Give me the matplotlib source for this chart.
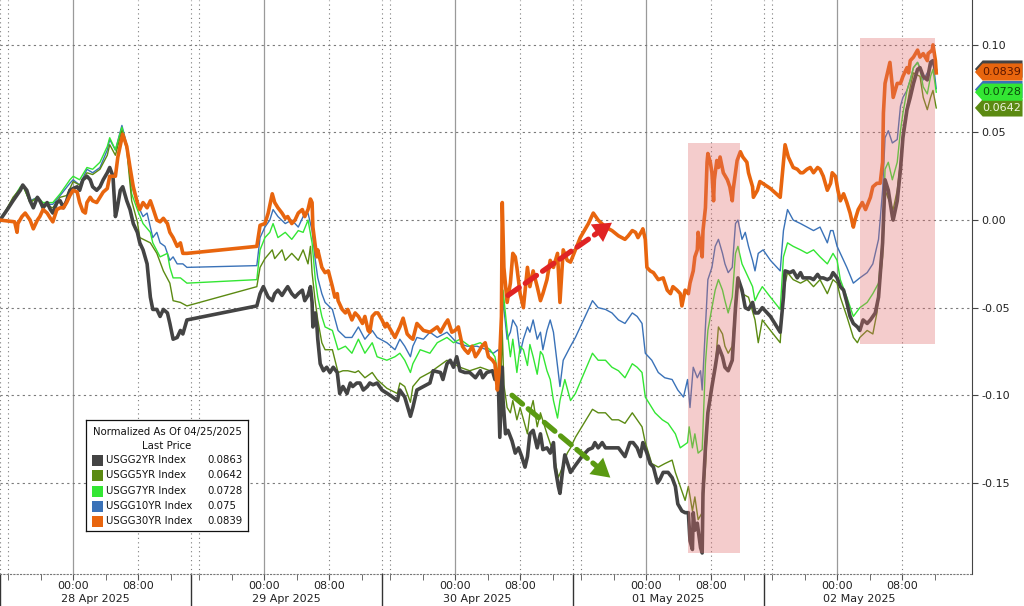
import matplotlib
matplotlib.use("Agg")
import matplotlib.pyplot as plt
import numpy as np
from matplotlib.patches import Polygon, Rectangle
from matplotlib.transforms import blended_transform_factory

# Treasury yield change since 04/25/2025 close, in basis points.
# Time is in hours along Bloomberg's gap-compressed axis: each session is
# 23.5 h long and starts at 15:00 of the previous day (00:00 sits at +9 h).
SESSION = 23.5
days = ["28 Apr 2025", "29 Apr 2025", "30 Apr 2025", "01 May 2025", "02 May 2025"]

t_30y = [0.0, 1.8, 2.1, 2.2, 2.7, 3.1, 3.7, 4.1, 4.6, 4.9,
         5.3, 5.8, 6.2, 6.5, 7.0, 7.4, 7.8, 8.2, 8.6, 9.0,
         9.5, 9.8, 10.2, 10.5, 10.7, 11.1, 11.4, 11.9, 12.3, 12.7,
         13.2, 13.5, 14.2, 14.5, 15.0, 15.1, 15.6, 16.0, 16.4, 16.9,
         17.2, 17.6, 18.1, 18.5, 18.8, 19.3, 19.7, 20.1, 20.6, 20.9,
         21.3, 21.8, 22.2, 22.5, 23.0,
         31.6, 32.0, 32.6, 33.0, 33.5, 33.8, 34.2, 34.7, 35.1, 35.4,
         35.9, 36.3, 36.7, 37.2, 37.5, 37.9, 38.2, 38.4, 38.5, 38.8,
         39.0, 39.1, 39.6, 40.0, 40.4, 40.9, 41.2, 41.5, 41.6, 42.1,
         42.5, 42.8, 43.3, 43.7, 44.1, 44.6, 44.9, 45.3, 45.5, 45.8,
         46.2, 46.5, 47.0,
         47.4, 47.6, 48.6, 49.2, 49.6, 50.1, 50.5, 50.8, 51.3, 52.1,
         52.9, 53.8, 54.2, 54.8, 55.1, 55.6, 56.0, 56.4, 56.9, 57.2,
         57.6, 58.1, 58.5, 58.8, 59.3, 59.7, 60.1, 60.6, 60.9, 61.2,
         61.4, 61.7, 61.8, 62.0, 62.4, 62.8, 63.1, 63.4, 63.6, 64.0,
         64.4, 64.9, 65.2, 65.6, 66.1, 66.5, 66.8, 67.3, 67.7, 68.1,
         68.6, 68.9, 69.3, 69.8, 70.2,
         70.8, 71.4, 72.4, 73.0, 73.6, 74.5, 75.3, 76.1, 76.9, 77.3,
         77.8, 78.2, 78.5, 79.0, 79.1, 79.4, 79.6, 80.0, 80.4, 81.0,
         81.6, 82.1, 82.5, 82.8, 83.3, 83.7, 83.9, 84.3, 84.7, 84.9,
         85.3, 85.5, 85.8, 85.9, 86.2, 86.4, 86.5, 86.8, 87.0, 87.1,
         87.4, 87.6, 87.8, 87.9, 88.2, 88.4, 88.6, 89.0, 89.5, 89.8,
         90.1, 90.2, 90.7, 91.1, 91.4, 91.9, 92.1, 92.6, 92.7, 93.2,
         93.5,
         94.8, 96.0, 96.4, 96.6, 97.0, 97.6, 98.1, 98.5, 98.8, 99.3,
         99.7, 100.1, 100.6, 100.9, 101.3, 101.8, 102.2, 102.4, 102.8, 103.1,
         103.4, 103.8, 104.2, 104.6, 105.0, 105.2, 105.6, 106.1, 106.5, 107.1,
         107.4, 107.9, 108.3, 108.6, 108.7, 108.9, 109.3, 109.5, 109.8, 109.9,
         110.4, 110.8, 111.1, 111.6, 111.8, 112.0, 112.4, 112.9, 113.2, 113.6,
         114.1, 114.2, 114.7, 114.8, 115.1, 115.2]
bp_30y = [0.0, -0.1, -0.7, -0.2, 0.2, 0.4, 0.0, -0.5, 0.0, 0.2,
          0.6, 0.4, 0.1, -0.1, 0.6, 0.7, 0.7, 1.0, 1.4, 1.7,
          1.6, 1.0, 0.5, 0.4, 1.0, 1.3, 1.1, 1.0, 1.3, 1.6,
          1.8, 2.5, 2.5, 3.6, 4.7, 4.9, 4.2, 3.0, 1.9, 1.0,
          0.6, 1.0, 0.7, 1.1, 0.7, 0.0, -0.1, 0.1, -0.2, -0.7,
          -1.0, -1.5, -1.3, -1.9, -1.9,
          -1.5, -0.3, -0.2, 0.4, 1.5, 1.0, 0.7, 0.4, 0.1, 0.2,
          -0.2, 0.0, 0.4, 0.6, 0.2, 0.6, 1.2, 1.0, -0.4, -1.5,
          -2.1, -1.7, -2.7, -3.0, -2.9, -3.8, -4.4, -4.2, -4.6, -5.1,
          -5.3, -5.1, -5.7, -5.3, -5.5, -5.9, -5.5, -6.3, -6.4, -5.5,
          -5.3, -5.3, -5.7,
          -6.1, -5.9, -6.7, -6.1, -5.6, -6.5, -6.7, -6.8, -5.9, -6.3,
          -6.4, -6.1, -6.4, -5.9, -5.7, -6.4, -6.3, -6.1, -7.2, -7.4,
          -7.6, -7.2, -7.8, -7.6, -7.2, -7.0, -7.8, -8.0, -8.2, -9.7,
          -8.7, -5.5, 1.0, -2.7, -4.7, -3.6, -1.9, -2.1, -2.7, -4.2,
          -5.0, -2.7, -3.8, -2.9, -3.8, -4.6, -4.2, -3.4, -2.3, -2.7,
          -1.9, -4.7, -1.7, -2.3, -2.4,
          -1.7, -1.0, -0.2, 0.4, 0.0, -0.4, -0.6, -0.9, -1.1, -0.9,
          -0.6, -0.7, -1.0, -0.6, -0.5, -1.1, -2.7, -2.9, -3.0, -3.4,
          -3.3, -4.0, -4.2, -3.8, -4.0, -4.2, -4.9, -4.0, -4.2, -3.6,
          -2.9, -2.1, -1.7, -0.7, -1.4, -2.1, -0.6, 0.7, 3.3, 3.8,
          3.3, 2.7, 1.1, 2.3, 3.4, 3.0, 3.6, 2.7, 2.3, 1.9,
          1.1, 1.7, 3.4, 3.9, 3.6, 3.3, 2.7, 1.9, 1.3, 1.7,
          2.2,
          1.8, 1.3, 3.3, 4.3, 3.6, 3.0, 2.9, 2.7, 2.7, 2.9,
          3.0, 2.7, 3.0, 2.9, 2.5, 1.7, 2.1, 2.7, 2.5, 1.7,
          1.1, 1.5, 1.0, 0.4, -0.4, 0.0, 0.6, 1.0, 0.6, 1.3,
          1.9, 2.1, 2.1, 3.3, 6.1, 7.8, 8.6, 9.0, 7.6, 7.0,
          7.8, 7.8, 8.2, 8.7, 8.4, 9.1, 9.3, 9.7, 9.3, 9.5,
          9.1, 9.5, 9.7, 10.0, 9.1, 8.4]

t_2y = [0.0, 0.9, 1.6, 2.5, 2.8, 3.3, 3.7, 4.1, 4.6, 4.9,
        5.3, 5.8, 6.2, 6.5, 7.0, 7.4, 7.8, 8.2, 8.6, 9.0,
        9.5, 9.8, 10.2, 10.7, 11.1, 11.4, 11.9, 12.3, 12.7, 13.2,
        13.5, 13.9, 14.2, 14.4, 14.8, 15.1, 15.6, 16.0, 16.4, 16.9,
        17.2, 17.6, 18.1, 18.5, 18.8, 19.3, 19.7, 20.1, 20.6, 20.9,
        21.3, 21.8, 22.2, 22.5, 23.0,
        31.6, 32.0, 32.4, 33.0, 33.5, 33.8, 34.2, 34.7, 35.1, 35.4,
        35.9, 36.3, 36.7, 37.2, 37.5, 37.9, 38.2, 38.4, 38.5, 38.8,
        39.0, 39.1, 39.4, 39.8, 40.2, 40.6, 41.0, 41.5, 41.8, 42.2,
        42.7, 43.1, 43.4, 43.9, 44.3, 44.7, 45.2, 45.5, 45.9, 46.4,
        47.0,
        48.0, 48.9, 49.2, 49.8, 50.5, 50.8, 51.3, 52.1, 52.9, 53.3,
        54.2, 54.5, 55.0, 55.4, 55.8, 56.2, 56.6, 57.2, 57.8, 58.5,
        59.1, 59.4, 59.9, 60.6, 60.9, 61.3, 61.5, 61.8, 61.9, 62.2,
        62.5, 63.0, 63.4, 63.8, 64.2, 64.6, 64.9, 65.2, 65.6, 66.1,
        66.5, 66.8, 67.3, 67.7, 68.1, 68.3, 68.7, 68.9, 69.2, 69.5,
        70.2,
        70.8, 71.6, 72.4, 72.9, 73.2, 73.6, 74.1, 74.5, 75.3, 76.1,
        76.9, 77.5, 77.9, 78.4, 78.8, 79.1, 79.6, 80.0, 80.4, 80.9,
        81.2, 81.6, 82.2, 82.7, 83.1, 83.4, 83.9, 84.3, 84.7, 84.9,
        85.2, 85.3, 85.5, 85.8, 86.2, 86.4, 86.5, 86.8, 87.1, 87.6,
        88.0, 88.4, 88.9, 89.2, 89.6, 90.1, 90.5, 90.8, 91.3, 91.7,
        92.1, 92.6, 92.9, 93.3, 93.8,
        94.8, 96.0, 96.4, 96.6, 97.2, 97.6, 98.1, 98.5, 98.8, 99.3,
        99.7, 100.1, 100.6, 100.9, 101.3, 101.8, 102.2, 102.5, 103.0, 103.4,
        103.8, 104.2, 104.6, 105.0, 105.5, 105.8, 106.2, 106.7, 107.1, 107.7,
        108.1, 108.6, 108.9, 109.3, 109.8, 109.9, 110.4, 110.8, 111.1, 111.6,
        112.0, 112.4, 112.9, 113.2, 113.6, 114.1, 114.5, 114.8, 115.1]
bp_2y = [0.0, 0.6, 1.1, 1.7, 2.0, 1.7, 1.1, 0.7, 1.3, 1.1,
         0.7, 1.0, 0.6, 0.4, 1.0, 1.1, 0.7, 1.1, 1.7, 1.8,
         1.9, 1.7, 2.3, 2.5, 2.3, 1.9, 1.7, 1.9, 2.3, 2.7,
         3.0, 2.5, 0.2, 0.6, 1.7, 1.9, 1.1, 0.6, -0.2, -0.7,
         -1.3, -1.7, -2.5, -4.4, -5.1, -5.1, -5.5, -5.1, -5.3, -5.9,
         -6.8, -6.7, -6.3, -6.5, -5.7,
         -4.9, -4.2, -3.8, -4.4, -4.6, -4.2, -4.0, -4.3, -4.0, -3.8,
         -4.2, -4.4, -4.2, -4.0, -4.6, -4.3, -3.8, -4.7, -6.1, -5.3,
         -6.1, -6.8, -8.2, -8.6, -8.4, -8.7, -8.4, -8.7, -9.9, -9.5,
         -9.9, -9.3, -9.5, -9.3, -9.3, -9.7, -9.5, -9.3, -9.4, -9.3,
         -9.7,
         -10.0, -10.3, -9.7, -10.1, -11.2, -10.7, -9.7, -9.5, -9.3, -8.6,
         -8.7, -9.1, -8.2, -8.0, -8.4, -7.8, -8.6, -8.7, -8.7, -9.0,
         -8.6, -9.0, -8.7, -8.6, -9.1, -9.0, -12.4, -8.4, -10.3, -12.2,
         -12.0, -12.6, -13.3, -13.0, -13.5, -14.1, -13.5, -12.2, -12.0, -13.0,
         -12.2, -13.1, -13.0, -13.3, -12.7, -14.1, -15.2, -15.6, -14.4, -13.4,
         -14.4,
         -14.0, -13.5, -13.1, -13.0, -12.7, -13.0, -12.7, -13.0, -13.0, -13.0,
         -13.5, -12.7, -12.7, -13.0, -13.5, -12.7, -13.3, -13.9, -14.1, -15.0,
         -14.8, -14.4, -14.4, -14.7, -15.2, -16.2, -16.6, -16.7, -16.7, -18.3,
         -18.8, -16.7, -17.7, -17.3, -18.7, -19.0, -15.6, -13.0, -11.0, -9.5,
         -8.4, -7.2, -7.8, -8.4, -8.6, -8.0, -5.0, -3.3, -4.0, -5.0,
         -5.1, -4.7, -5.3, -5.3, -5.0,
         -5.5, -6.4, -4.4, -2.9, -3.0, -2.9, -3.3, -3.0, -3.3, -3.3,
         -3.3, -3.4, -3.1, -3.3, -3.3, -3.4, -3.3, -3.0, -3.3, -3.8,
         -4.0, -4.7, -5.5, -5.9, -6.1, -6.3, -5.7, -5.9, -5.7, -5.3,
         -4.4, -1.3, 2.3, 1.7, 0.2, 0.0, 1.1, 2.9, 4.7, 6.3,
         7.0, 7.8, 8.6, 8.7, 8.2, 8.0, 9.0, 9.1, 8.6]

t_5y = [0.0, 0.9, 1.6, 2.5, 2.8, 3.7, 4.6, 5.3, 6.5, 7.4,
        8.2, 9.0, 9.8, 10.7, 11.4, 12.3, 13.2, 13.5, 14.2, 15.0,
        15.6, 16.2, 16.9, 17.2, 18.5, 19.3, 20.1, 20.9, 21.3, 22.2,
        23.0,
        31.6, 32.0, 32.6, 33.5, 33.8, 34.7, 35.1, 35.9, 36.7, 37.3,
        37.9, 38.2, 38.4, 38.8, 39.1, 39.6, 40.0, 40.9, 41.6, 42.2,
        42.8, 43.7, 44.1, 44.9, 45.8, 46.4,
        47.6, 48.9, 49.2, 49.8, 50.5, 50.8, 51.7, 52.9, 53.8, 55.0,
        55.8, 56.6, 57.8, 59.1, 60.3, 60.9, 61.3, 61.5, 61.8, 62.0,
        62.4, 62.8, 63.1, 63.6, 64.0, 64.9, 65.2, 65.6, 66.1, 66.5,
        67.3, 68.1, 68.7, 69.2, 69.8, 70.2,
        70.8, 72.9, 73.6, 74.5, 75.3, 76.1, 76.9, 77.8, 78.4, 79.0,
        79.4, 80.2, 81.0, 81.8, 82.7, 83.1, 83.7, 84.3, 84.7, 85.2,
        85.5, 85.9, 86.4, 86.8, 87.1, 88.0, 88.4, 88.9, 89.2, 89.6,
        90.1, 90.5, 90.8, 91.3, 92.1, 92.9, 93.3, 93.8,
        94.8, 96.0, 96.4, 96.9, 97.6, 98.5, 99.3, 100.1, 100.9, 101.8,
        102.5, 103.0, 103.4, 104.2, 105.0, 105.5, 105.8, 106.7, 107.4, 107.9,
        108.6, 108.9, 109.5, 109.9, 110.4, 110.8, 111.1, 111.6, 112.0, 112.4,
        113.2, 113.6, 114.1, 114.5, 114.8, 115.2]
bp_5y = [0.0, 0.7, 1.3, 1.8, 2.0, 1.0, 1.3, 0.9, 0.7, 1.3,
         1.4, 2.2, 2.0, 2.7, 2.6, 2.9, 3.7, 4.3, 3.7, 5.1,
         4.0, 1.1, -0.1, -1.0, -1.3, -1.9, -2.9, -3.6, -4.6, -4.7,
         -4.9,
         -3.8, -2.7, -2.2, -1.7, -2.2, -1.7, -2.3, -1.9, -2.3, -1.7,
         -2.5, -1.5, -3.0, -4.7, -5.7, -7.0, -7.4, -7.4, -8.7, -8.6,
         -8.6, -8.7, -8.6, -9.0, -8.7, -9.1,
         -9.6, -9.9, -9.3, -9.5, -10.4, -9.5, -9.0, -8.7, -8.4, -8.0,
         -8.2, -8.4, -8.6, -8.4, -8.6, -8.7, -9.5, -11.2, -6.3, -9.4,
         -10.7, -11.0, -10.3, -11.4, -10.7, -12.2, -11.0, -10.3, -11.8, -11.0,
         -12.2, -13.3, -14.7, -14.1, -13.3, -13.0,
         -12.4, -10.8, -11.0, -11.0, -11.4, -11.4, -11.6, -11.0, -11.4, -11.8,
         -12.7, -13.9, -14.1, -13.9, -13.7, -14.4, -15.2, -16.0, -15.2, -16.6,
         -15.8, -17.1, -16.7, -14.1, -11.0, -8.4, -6.1, -6.5, -7.2, -7.6,
         -7.2, -4.6, -3.3, -4.2, -4.4, -5.7, -7.0, -5.7,
         -6.3, -7.0, -4.0, -3.0, -3.4, -3.6, -3.4, -3.8, -3.4, -4.2,
         -3.4, -3.6, -4.4, -5.5, -6.7, -7.0, -6.7, -6.3, -6.5, -5.3,
         -2.1, 1.7, 1.0, 0.6, 1.7, 3.3, 5.1, 6.5, 7.6, 8.4,
         8.2, 7.0, 6.3, 7.0, 7.4, 6.4]

t_7y = [0.0, 2.5, 2.8, 3.7, 4.6, 5.3, 6.5, 7.4, 8.6, 9.0,
        9.8, 10.7, 11.4, 12.3, 13.2, 13.5, 14.2, 15.0, 15.6, 16.2,
        16.9, 17.6, 18.5, 18.8, 19.7, 20.6, 20.9, 21.3, 22.2, 23.0,
        31.6, 32.0, 32.6, 33.2, 33.6, 34.2, 35.1, 35.9, 36.7, 37.3,
        37.9, 38.4, 38.8, 39.1, 39.6, 40.0, 40.9, 41.6, 42.5, 43.3,
        44.1, 44.9, 45.8, 46.4,
        47.6, 48.6, 49.2, 49.8, 50.5, 50.8, 51.7, 52.9, 53.8, 55.0,
        55.8, 56.6, 57.8, 59.1, 60.3, 60.9, 61.3, 61.5, 61.9, 62.4,
        62.8, 63.1, 63.6, 64.0, 64.4, 64.9, 65.2, 65.6, 66.1, 66.5,
        66.8, 67.3, 67.7, 68.1, 68.6, 68.9, 69.5, 70.2,
        70.8, 72.9, 73.6, 74.5, 75.3, 76.1, 76.9, 77.8, 78.4, 79.0,
        79.4, 79.8, 80.6, 81.5, 82.2, 83.1, 83.7, 84.6, 84.8, 85.2,
        85.5, 85.9, 86.4, 86.8, 87.1, 87.6, 88.0, 88.4, 88.9, 89.2,
        89.6, 90.1, 90.5, 90.8, 91.3, 91.7, 92.6, 92.9, 93.3, 93.8,
        94.8, 96.0, 96.4, 96.9, 97.6, 98.5, 99.3, 100.1, 100.9, 101.8,
        102.5, 103.0, 103.4, 104.2, 105.0, 105.8, 106.7, 107.4, 108.1, 108.6,
        108.9, 109.3, 109.8, 110.4, 110.8, 111.1, 111.6, 112.0, 112.4, 112.9,
        113.2, 113.6, 114.1, 114.5, 114.8, 115.2]
bp_7y = [0.0, 1.9, 2.0, 1.0, 1.3, 1.0, 1.0, 1.5, 2.3, 2.5,
         2.3, 3.0, 2.9, 3.3, 4.2, 4.7, 4.0, 5.3, 4.2, 1.5,
         0.6, -0.2, -0.7, -1.3, -2.1, -1.9, -2.7, -3.3, -3.3, -3.6,
         -3.4, -1.7, -1.0, -0.7, -0.2, -1.0, -0.7, -1.1, -0.6, -0.7,
         0.0, -1.3, -3.4, -4.4, -5.5, -6.1, -6.3, -7.4, -7.2, -7.6,
         -6.8, -7.6, -7.0, -7.8,
         -8.0, -7.8, -7.6, -8.0, -8.7, -8.2, -7.4, -7.6, -7.0, -6.7,
         -7.0, -6.8, -7.2, -7.0, -7.4, -7.8, -8.8, -10.7, -4.0, -6.3,
         -7.8, -6.8, -8.7, -7.2, -7.4, -8.3, -7.1, -7.8, -8.8, -7.5,
         -7.7, -8.6, -9.1, -10.3, -11.3, -10.3, -9.1, -10.3,
         -9.9, -7.6, -8.0, -8.0, -8.4, -8.6, -9.0, -8.2, -8.4, -8.7,
         -10.1, -10.4, -11.0, -11.4, -11.6, -12.2, -13.0, -12.7, -11.8, -13.0,
         -12.2, -13.3, -13.1, -8.2, -6.3, -5.0, -4.0, -3.4, -4.0, -4.6,
         -5.3, -4.4, -1.9, -1.5, -2.5, -2.9, -3.8, -4.6, -4.2, -3.8,
         -4.4, -5.1, -2.1, -1.3, -1.5, -1.7, -1.9, -1.7, -2.1, -2.5,
         -1.9, -2.3, -3.4, -4.4, -5.5, -5.0, -4.7, -4.2, -3.6, -1.0,
         2.9, 3.3, 2.3, 3.3, 5.1, 6.1, 7.4, 8.0, 8.7, 9.0,
         8.6, 7.6, 7.2, 8.2, 8.6, 7.3]

t_10y = [0.0, 2.5, 2.8, 3.7, 4.6, 5.3, 6.5, 7.4, 8.6, 9.0,
         9.8, 10.7, 11.4, 12.3, 13.2, 13.5, 14.2, 15.0, 15.6, 16.2,
         16.9, 17.6, 18.1, 18.5, 18.8, 19.3, 19.7, 20.3, 20.9, 21.3,
         21.8, 22.5, 23.0,
         31.6, 32.0, 32.6, 33.2, 33.6, 34.2, 35.1, 35.9, 36.7, 37.3,
         37.9, 38.4, 38.8, 39.1, 39.6, 40.0, 40.9, 41.6, 42.5, 43.3,
         44.1, 44.9, 45.8, 46.4,
         47.6, 48.6, 49.2, 49.8, 50.5, 50.8, 51.3, 52.1, 52.9, 53.8,
         55.0, 56.2, 57.5, 58.7, 59.9, 60.7, 61.3, 61.5, 61.9, 62.4,
         62.8, 63.1, 63.6, 64.0, 64.4, 64.9, 65.2, 65.6, 66.1, 66.5,
         66.8, 67.3, 67.7, 68.1, 68.9, 69.3, 70.2,
         70.8, 72.9, 73.6, 74.5, 75.3, 76.1, 76.9, 77.8, 78.4, 79.0,
         79.4, 80.2, 81.0, 81.8, 82.7, 83.4, 84.1, 84.6, 84.9, 85.3,
         85.8, 86.2, 86.4, 86.8, 87.1, 87.6, 88.0, 88.4, 88.9, 89.2,
         89.6, 90.1, 90.5, 90.8, 91.3, 91.7, 92.1, 92.6, 92.9, 93.3,
         93.9,
         94.8, 96.0, 96.4, 96.9, 97.6, 98.5, 99.3, 100.1, 100.9, 101.8,
         102.2, 102.5, 103.0, 103.4, 104.2, 105.0, 105.8, 106.7, 107.4, 108.1,
         108.6, 108.9, 109.3, 109.8, 110.4, 110.8, 111.1, 111.6, 112.0, 112.4,
         112.9, 113.2, 113.6, 114.1, 114.5, 114.8, 115.2]
bp_10y = [0.0, 1.7, 2.0, 1.1, 1.3, 0.9, 0.9, 1.4, 2.1, 2.3,
          2.0, 2.9, 2.7, 3.0, 4.0, 4.6, 4.0, 5.4, 4.3, 2.0,
          0.9, 0.2, 0.4, -0.4, -1.0, -0.7, -1.3, -1.5, -2.3, -2.1,
          -2.5, -2.5, -2.7,
          -2.6, -1.0, -0.4, 0.0, 0.6, 0.2, -0.2, 0.0, -0.4, 0.2,
          0.4, -0.6, -2.3, -3.3, -4.2, -4.7, -5.1, -6.3, -6.7, -6.7,
          -6.1, -6.8, -6.3, -6.7,
          -7.0, -7.4, -6.8, -7.2, -7.8, -7.2, -6.7, -6.8, -6.4, -6.7,
          -6.4, -7.0, -7.2, -7.2, -7.4, -7.6, -7.4, -7.8, -4.6, -6.8,
          -6.4, -5.7, -6.1, -7.6, -6.8, -6.1, -6.4, -5.7, -6.8, -6.4,
          -7.4, -6.3, -5.7, -6.4, -9.5, -8.0, -7.2,
          -6.7, -4.6, -5.0, -5.1, -5.3, -5.7, -5.9, -5.3, -5.5, -5.9,
          -7.6, -8.0, -8.7, -9.0, -9.1, -9.7, -10.1, -9.1, -10.7, -8.4,
          -9.0, -8.6, -9.7, -6.1, -3.4, -2.7, -1.5, -1.1, -1.9, -2.5,
          -3.0, -2.7, -0.2, 0.0, -1.1, -0.7, -1.5, -2.3, -2.9, -1.9,
          -1.7,
          -2.3, -2.9, -0.6, 0.6, 0.0, -0.2, -0.4, -0.6, -0.4, -1.3,
          -0.6, -0.6, -1.5, -1.9, -2.7, -3.6, -3.3, -3.0, -2.5, -1.1,
          1.7, 4.7, 5.1, 4.4, 4.6, 6.5, 7.0, 7.4, 8.0, 8.7,
          9.0, 8.7, 8.0, 8.4, 8.7, 9.1, 7.5]

names = ["USGG2YR Index", "USGG5YR Index", "USGG7YR Index", "USGG10YR Index", "USGG30YR Index"]
last_price = ["0.0863", "0.0642", "0.0728", "0.075", "0.0839"]
colors = ["#444444", "#5b8a12", "#33e633", "#3a72b8", "#e8650e"]

fig = plt.figure(figsize=(10.24, 6.06), dpi=100)
plt.rcParams['font.family'] = ['DejaVu Sans']
ax = fig.add_axes([0, 32 / 606, 972 / 1024, 574 / 606])

# thin lines first, thick 2Y and 30Y on top
ax.plot(t_10y, np.array(bp_10y) / 100, color=colors[3], lw=1.0, zorder=3)
ax.plot(t_7y, np.array(bp_7y) / 100, color=colors[2], lw=1.0, zorder=3)
ax.plot(t_5y, np.array(bp_5y) / 100, color=colors[1], lw=1.0, zorder=3)
ax.plot(t_2y, np.array(bp_2y) / 100, color=colors[0], lw=2.6, zorder=4)
ax.plot(t_30y, np.array(bp_30y) / 100, color=colors[4], lw=2.6, zorder=4)

ax.set_xlim(0, 119.6)
ax.set_ylim(-0.202, 0.1256)

# highlight boxes
for x0, x1, y0, y1 in [(84.6, 91.1, -0.190, 0.044), (105.8, 115.1, -0.071, 0.104)]:
    ax.add_patch(Rectangle((x0, y0), x1 - x0, y1 - y0, facecolor=(224/255, 109/255, 109/255),
                           alpha=0.35, edgecolor='none', zorder=5))

# dashed arrows
for (xa, ya), (xb, yb), c in [((62.5, -0.043), (75.3, -0.0015), '#e02424'),
                              ((63.0, -0.100), (75.1, -0.147), '#5a9a12')]:
    xm, ym = xa + 0.86 * (xb - xa), ya + 0.86 * (yb - ya)
    ax.plot([xa, xm], [ya, ym], color=c, lw=3.8, ls=(0, (2.6, 1.4)), zorder=6,
            dash_capstyle='round')
    ax.annotate("", xy=(xb, yb), xytext=(xm - 0.02 * (xb - xa), ym - 0.02 * (yb - ya)),
                arrowprops=dict(arrowstyle='-|>,head_length=0.6,head_width=0.35', color=c,
                                lw=0, mutation_scale=22, shrinkA=0, shrinkB=0), zorder=6)

# grid and session markers
grid_c = '#7a7a7a'
for d in range(len(days)):
    s = d * SESSION
    for off in (0, 1, 17):
        ax.axvline(s + off, color=grid_c, lw=0.8, ls=(0, (1, 3)), zorder=1)
    ax.axvline(s + 9, color='#9a9a9a', lw=0.9, zorder=1)
    ax.plot([s, s], [0, -0.058], transform=ax.get_xaxis_transform(), color='#333333',
            lw=1.0, clip_on=False)
    ax.text(s + SESSION / 2, -0.043, days[d], transform=ax.get_xaxis_transform(),
            ha='center', va='center', fontsize=8, color='#222222')

yt = [-0.15, -0.10, -0.05, 0.0, 0.05, 0.10]
ax.set_yticks(yt)
ax.set_yticklabels(["%.2f" % v for v in yt])
ax.yaxis.tick_right()
ax.grid(axis='y', color=grid_c, lw=0.8, ls=(0, (2, 3)))
ax.tick_params(axis='y', direction='out', length=4, color='#444444', labelsize=8,
               labelcolor='#222222', pad=3)

major = [d * SESSION + h for d in range(len(days)) for h in (9, 17)]
minor = [d * SESSION + h for d in range(len(days)) for h in (1, 5, 13, 21)]
ax.set_xticks(major)
ax.set_xticklabels(["00:00", "08:00"] * len(days))
ax.set_xticks(minor, minor=True)
ax.tick_params(axis='x', which='both', direction='out', length=4, color='#555555',
               labelsize=8, labelcolor='#222222', pad=1)

for side in ('top', 'left'):
    ax.spines[side].set_visible(False)
ax.spines['right'].set_color('#444444')
ax.spines['bottom'].set_color('#777777')
ax.spines['bottom'].set_linestyle((0, (1, 2)))

# last-price tags on the right axis (2Y and 10Y sit mostly hidden behind others)
tr = blended_transform_factory(ax.transAxes, ax.transData)
tag_y = [0.0862, 0.0640, 0.0730, 0.0745, 0.0845]
tag_txt = ['#ffffff', '#eef4e0', '#0a4d0a', '#ffffff', '#5a1600']
h = 0.0049
for i in [0, 4, 3, 1, 2]:
    v = tag_y[i]
    ax.add_patch(Polygon([(1.003, v), (1.011, v + h), (1.052, v + h), (1.052, v - h), (1.011, v - h)],
                         closed=True, transform=tr, facecolor=colors[i], edgecolor='none',
                         clip_on=False, zorder=7))
    if i in (1, 2, 4):
        ax.text(1.031, v, last_price[i], transform=tr, ha='center', va='center',
                fontsize=8, color=tag_txt[i], zorder=8, clip_on=False)

# legend box
lg = fig.add_axes([86 / 1024, (606 - 531) / 606, 162 / 1024, 111 / 606])
lg.set_xlim(0, 162)
lg.set_ylim(111, 0)
lg.set_xticks([])
lg.set_yticks([])
for sp in lg.spines.values():
    sp.set_color('#111111')
    sp.set_linewidth(0.9)
lg.text(81, 12, "Normalized As Of 04/25/2025", ha='center', va='center', fontsize=7.3, color='#111111')
lg.text(81, 26, "Last Price", ha='center', va='center', fontsize=7.3, color='#111111')
for i, yy in enumerate([40, 55, 71, 86, 101]):
    lg.add_patch(Rectangle((6, yy - 5.5), 11, 11, facecolor=colors[i], edgecolor='none'))
    lg.text(20, yy, names[i], va='center', fontsize=7.3, color='#111111')
    lg.text(121, yy, last_price[i], va='center', fontsize=7.3, color='#111111')

fig.savefig('out.png', dpi=100, facecolor='white')
